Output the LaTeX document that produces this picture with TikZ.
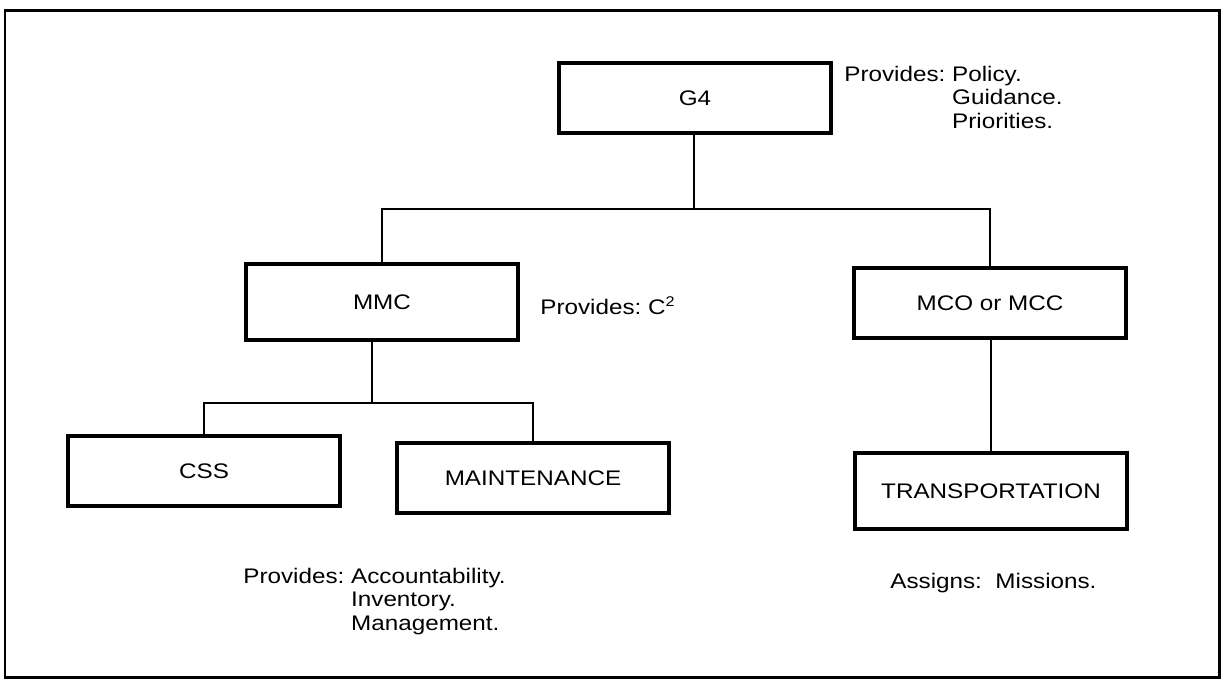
\documentclass[tikz,border=0pt]{standalone}
\usepackage{fontspec}
\setmainfont{Liberation Sans}[FakeStretch=1.15]
\begin{document}
\begin{tikzpicture}[x=0.02cm,y=-0.02cm,
  box/.style={draw, line width=2.2pt, minimum width=5.44cm, minimum height=1.4cm, inner sep=0pt, font=\fontsize{12}{13.6}\selectfont},
  wire/.style={line width=0.6pt},
  note/.style={anchor=north west, inner sep=0pt, font=\fontsize{12}{13.6}\selectfont, align=left}]
\useasboundingbox (0,0) rectangle (1224,681);
\draw[line width=1.7pt] (5,10) rectangle (1219,677);
% boxes
\node[box, minimum height=1.4cm] (g4) at (695,98) {G4};
\node[box, minimum height=1.52cm] (mmc) at (382,302) {MMC};
\node[box] (mco) at (990,303) {MCO or MCC};
\node[box] (css) at (204,471) {CSS};
\node[box] (mnt) at (533,478) {MAINTENANCE};
\node[box, minimum height=1.52cm] (trn) at (991,491) {TRANSPORTATION};
% notes
\node[note] (ng4) at (844,64) {\begin{tabular}{@{}l@{\ }l@{}}Provides: & Policy.\\ & Guidance.\\ & Priorities.\end{tabular}};
\node[note, anchor=west] (nmmc) at (540,306) {Provides:\ C\textsuperscript{2}};
\node[note] (nmnt) at (243,566) {\begin{tabular}{@{}l@{\ }l@{}}Provides: & Accountability.\\ & Inventory.\\ & Management.\end{tabular}};
\node[note, anchor=west] (ntrn) at (890,583) {Assigns:\ \ Missions.};
% connectors
\coordinate (j1) at (694,209);
\coordinate (j2) at (372,403);
\draw[wire] (g4.south -| j1) -- (j1);
\draw[wire] (mmc.north) |- (j1) -| (mco.north);
\draw[wire] (mmc.south -| j2) -- (j2);
\draw[wire] (css.north) |- (j2) -| (mnt.north);
\draw[wire] (mco.south -| trn.north) -- (trn.north);
\end{tikzpicture}
\end{document}
